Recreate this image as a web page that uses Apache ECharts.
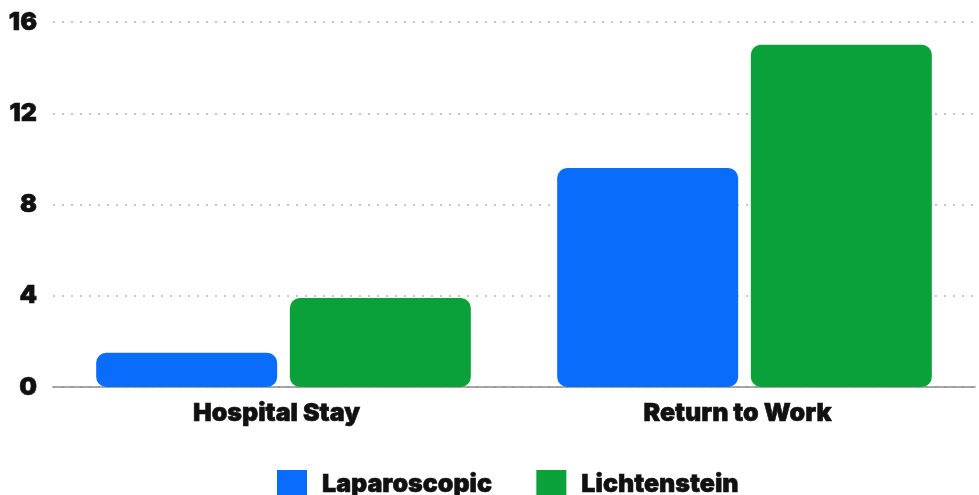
<!DOCTYPE html>
<html>
<head>
<meta charset="utf-8">
<script src="https://cdn.jsdelivr.net/npm/echarts@6/dist/echarts.min.js"></script>
<style>
  html, body { margin: 0; padding: 0; background: #ffffff; }
  #chart { width: 979px; height: 495px; }
</style>
</head>
<body>
<div id="chart"></div>
<script>
// Recovery outcomes by surgical technique
const categories = ['Hospital Stay', 'Return to Work'];
const laparoscopic = [1.5, 9.6];
const lichtenstein = [3.9, 15.0];
const yTicks = { min: 0, max: 16, interval: 4 };

const FONT = 'Inter';
// Heavy black text used for every label
const heavyText = {
  fontFamily: FONT,
  fontWeight: 900,
  fontSize: 25,
  color: '#111111',
  textBorderColor: '#111111',
  textBorderWidth: 0.6
};

const chart = echarts.init(document.getElementById('chart'));

chart.setOption({
  backgroundColor: '#ffffff',
  animation: false,
  grid: { left: 53, right: 4, top: 22, bottom: 108 },
  legend: {
    left: 272,
    top: 465,
    itemWidth: 30,
    itemHeight: 28,
    itemGap: 44,
    icon: 'rect',
    textStyle: Object.assign({}, heavyText, { padding: [0, 0, 0, 10] }),
    data: ['Laparoscopic', 'Lichtenstein']
  },
  xAxis: {
    type: 'category',
    data: categories,
    axisLine: { show: true, lineStyle: { color: '#8a8a8a', width: 1.5 } },
    axisTick: { show: false },
    axisLabel: Object.assign({}, heavyText, { margin: 14, padding: [0, 14, 0, 0] })
  },
  yAxis: {
    type: 'value',
    min: yTicks.min,
    max: yTicks.max,
    interval: yTicks.interval,
    axisLine: { show: false },
    axisTick: { show: false },
    splitLine: {
      show: true,
      lineStyle: { color: '#b5b5b5', width: 1.5, type: [2, 7] }
    },
    axisLabel: Object.assign({}, heavyText, { margin: 16 })
  },
  series: [
    {
      name: 'Laparoscopic',
      type: 'bar',
      data: laparoscopic,
      barWidth: 181,
      barGap: '7%',
      itemStyle: { color: '#0a6cfb', borderRadius: 10 }
    },
    {
      name: 'Lichtenstein',
      type: 'bar',
      data: lichtenstein,
      barWidth: 181,
      barGap: '7%',
      itemStyle: { color: '#0aa13b', borderRadius: 10 }
    }
  ]
});
</script>
</body>
</html>
